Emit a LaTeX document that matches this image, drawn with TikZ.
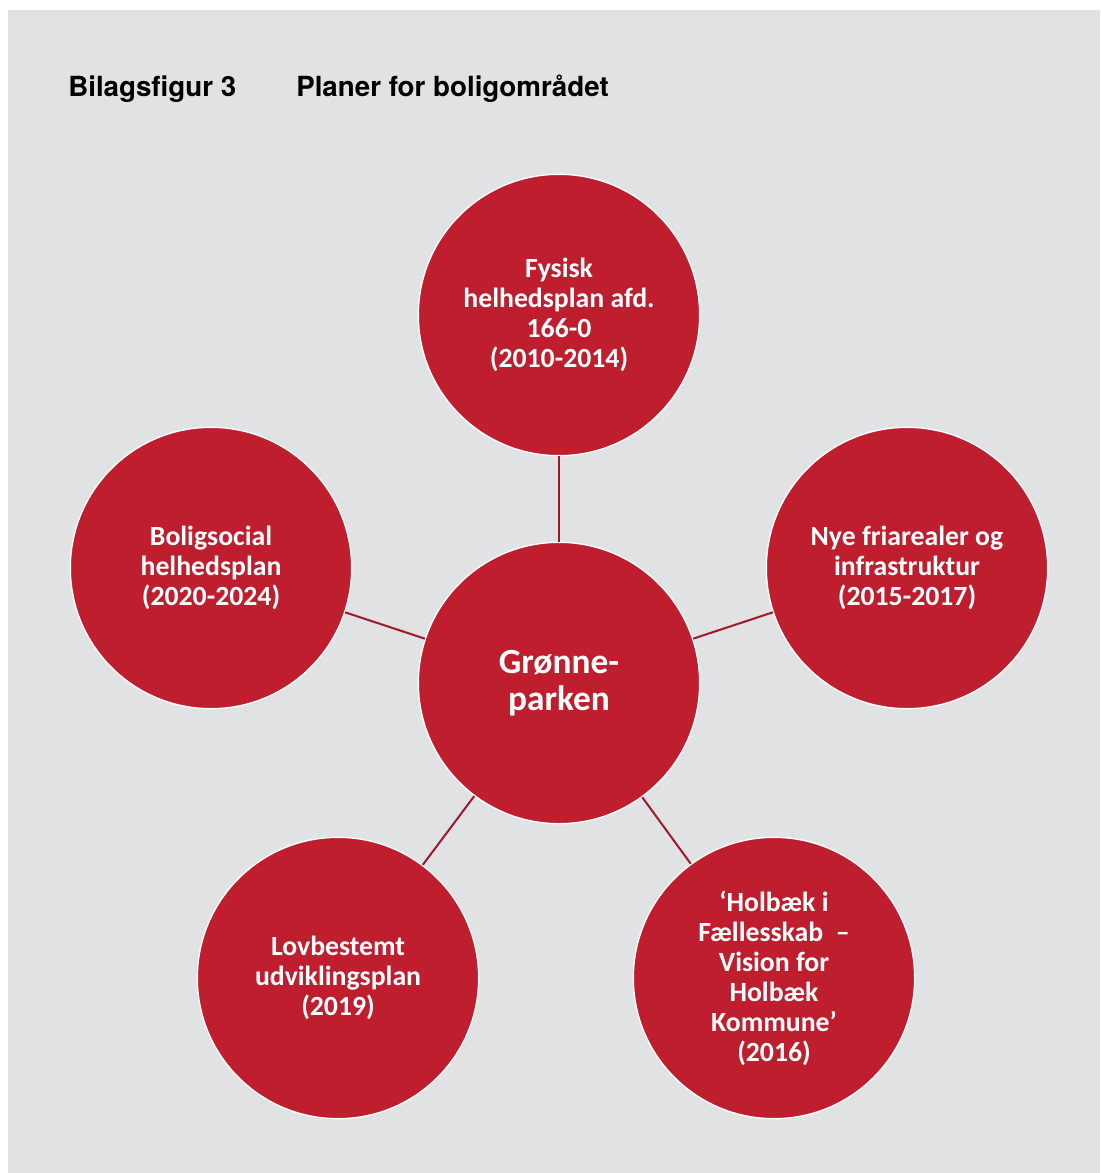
\documentclass[tikz,border=0pt]{standalone}
\usepackage{fontspec}
\usepackage{xcolor}
\usepackage{tikz}
\setmainfont{Carlito}
\newfontfamily\titlefont{TeX Gyre Heros}
\definecolor{bggray}{RGB}{225,226,228}
\definecolor{planred}{RGB}{190,30,46}
\definecolor{linkred}{RGB}{155,28,40}
\tikzset{
  plan/.style={circle, fill=planred, draw=white, line width=1pt, minimum size=211pt, inner sep=0pt,
    text=white, align=center, font=\bfseries\fontsize{20.8}{22.5}\selectfont},
  hub/.style={plan, font=\bfseries\fontsize{26.5}{28}\selectfont},
  link/.style={draw=linkred, line width=1.5pt}
}
\begin{document}
\begin{tikzpicture}[x=0.75pt,y=0.75pt,yscale=-1,xscale=1]
\useasboundingbox (0,0) rectangle (1100,1173);
% Background
\fill [bggray] (8,10) rectangle (1100,1173);
% Title
\draw (68,97) node [anchor=base west][inner sep=0pt] {\titlefont\bfseries\fontsize{20.8}{24}\selectfont Bilagsfigur 3};
\draw (296,97) node [anchor=base west][inner sep=0pt] {\titlefont\bfseries\fontsize{20.8}{24}\selectfont Planer for boligområdet};
% Circles
\node [hub] (park) at (559,683) {Grønne-\\parken};
\node [plan] (fysisk) at (559,315) {Fysisk\\helhedsplan afd.\\166-0\\(2010-2014)};
\node [plan] (nye) at (907,568) {Nye friarealer og\\infrastruktur\\(2015-2017)};
\node [plan] (holbaek) at (774,978) {‘Holbæk i\\Fællesskab \ –\\Vision for\\Holbæk\\Kommune’\\(2016)};
\node [plan] (lov) at (338,978) {Lovbestemt\\udviklingsplan\\(2019)};
\node [plan] (social) at (211,568) {Boligsocial\\helhedsplan\\(2020-2024)};
% Links
\foreach \n in {fysisk,nye,holbaek,lov,social}
  \draw [link] (park) -- (\n);
\end{tikzpicture}
\end{document}
